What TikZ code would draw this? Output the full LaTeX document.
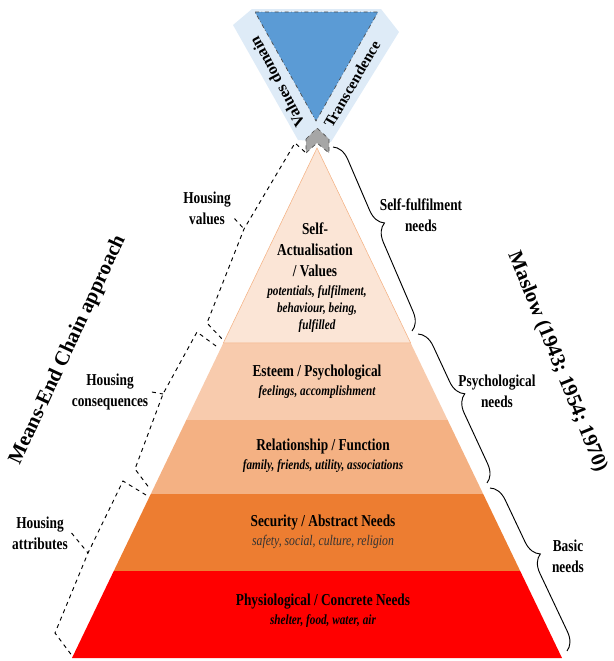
\documentclass[tikz,border=0pt]{standalone}
\usepackage{fontspec}
\setmainfont{Liberation Serif}
\usetikzlibrary{calc,decorations.pathreplacing}

\definecolor{bandblue}{RGB}{222,235,247}
\definecolor{valblue}{RGB}{91,155,213}
\definecolor{chevgrey}{RGB}{166,166,166}
\definecolor{layerA}{RGB}{251,229,214}
\definecolor{layerB}{RGB}{248,203,173}
\definecolor{layerC}{RGB}{244,177,131}
\definecolor{layerD}{RGB}{237,125,49}
\definecolor{layerE}{RGB}{255,0,0}

\tikzset{
  lbl/.style={align=center, xscale=0.8, font=\fontsize{12.5}{15.75}\selectfont\bfseries},
  subtxt/.style={align=center, xscale=0.8, font=\fontsize{10.5}{13}\selectfont\bfseries\itshape},
  laytxt/.style={align=center, xscale=0.8, font=\fontsize{12.5}{14.5}\selectfont\bfseries},
  sidetxt/.style={font=\fontsize{15.5}{18}\selectfont\bfseries},
  bandtxt/.style={font=\fontsize{12}{14}\selectfont\bfseries},
  chainline/.style={dashed, line width=0.7pt},
  needbrace/.style={decorate, decoration={brace, amplitude=13pt, aspect=0.45}, line width=0.7pt}
}
\newcommand{\subline}[1]{{\fontsize{10.5}{14.5}\selectfont\bfseries\itshape #1}}
\newcommand{\sublight}[1]{{\fontsize{11}{14.5}\selectfont\mdseries\itshape\color{black!80}#1}}

\begin{document}
\begin{tikzpicture}[x=0.75pt,y=-0.75pt]
\useasboundingbox (0,0) rectangle (614,661);

\coordinate (apex) at (317,148);
\coordinate (bl) at (72,658);
\coordinate (br) at (562,658);
\coordinate (l1) at ($(apex)!0.382!(bl)$);
\coordinate (r1) at ($(apex)!0.382!(br)$);
\coordinate (l2) at ($(apex)!0.533!(bl)$);
\coordinate (r2) at ($(apex)!0.533!(br)$);
\coordinate (l3) at ($(apex)!0.678!(bl)$);
\coordinate (r3) at ($(apex)!0.678!(br)$);
\coordinate (l4) at ($(apex)!0.829!(bl)$);
\coordinate (r4) at ($(apex)!0.829!(br)$);

\fill[layerE] (l4) -- (r4) -- (br) -- (bl) -- cycle;
\fill[layerD] (l3) -- (r3) -- (r4) -- (l4) -- cycle;
\fill[layerC] (l2) -- (r2) -- (r3) -- (l3) -- cycle;
\fill[layerB] (l1) -- (r1) -- (r2) -- (l2) -- cycle;
\filldraw[fill=layerA, draw=layerC, line width=0.4pt] (apex) -- (r1) -- (l1) -- cycle;

\fill[bandblue] (233,25) -- (252,9) -- (381,9) -- (399,32) -- (331,142) -- (298,140) -- cycle;
\filldraw[fill=valblue, draw=black!70, dash dot, line width=0.5pt] (255,12) -- (378,12) -- (316,121) -- cycle;
\filldraw[fill=chevgrey, draw=black!70, dashed, line width=0.5pt] (306,139) -- (317,128) -- (329,139) -- (329,153) -- (317,143) -- (306,153) -- cycle;

\draw node[bandtxt, rotate=118] (valdom) at (277,82) {Values domain};
\draw node[bandtxt, rotate=60, font=\fontsize{11.5}{14}\selectfont\bfseries] (transc) at (352,84) {Transcendence};

\draw node[lbl] (selfact) at (315,250) {Self-\\Actualisation\\/ Values};
\draw node[subtxt] (selfsub) at (317,309) {potentials, fulfilment,\\behaviour, being,\\fulfilled};
\draw node[laytxt] (esteem) at (317,382) {Esteem / Psychological\\\subline{feelings, accomplishment}};
\draw node[laytxt] (relat) at (323,456) {Relationship / Function\\\subline{family, friends, utility, associations}};
\draw node[laytxt] (secur) at (323,532) {Security / Abstract Needs\\\sublight{safety, social, culture, religion}};
\draw node[laytxt] (physio) at (323,611) {Physiological / Concrete Needs\\\subline{shelter, food, water, air}};

\draw node[lbl] (selfneed) at (421,215) {Self-fulfilment\\needs};
\draw node[lbl] (psyneed) at (497,391) {Psychological\\needs};
\draw node[lbl] (basneed) at (568,556) {Basic\\needs};

\draw node[lbl] (hval) at (207,208) {Housing\\values};
\draw node[lbl] (hcon) at (110,392) {Housing\\consequences};
\draw node[lbl] (hatt) at (40,533) {Housing\\attributes};

\draw node[sidetxt, rotate=65] (meanchain) at (68,350) {Means-End Chain approach};
\draw node[sidetxt, rotate=-68] (maslow) at (557,362) {Maslow (1943; 1954; 1970)};

\coordinate (sftop) at (333,147);
\coordinate (sfbot) at (412,331);
\coordinate (pstop) at (418,334);
\coordinate (psbot) at (487,483);
\coordinate (batop) at (490,488);
\coordinate (babot) at (567,651);
\draw[needbrace] (sftop) -- (sfbot);
\draw[needbrace] (pstop) -- (psbot);
\draw[needbrace] (batop) -- (babot);

\coordinate (valend) at (305,152);
\coordinate (valcor) at (295,143);
\coordinate (valmid) at (244,229);
\coordinate (valbot) at (207,323);
\coordinate (valfoot) at (223,340);
\draw[chainline] (valend) -- (valcor) -- (valmid) -- (valbot) -- (valfoot);
\draw[chainline] ($(hval.east)!0.5!(hval.south east)$) -- (valmid);

\coordinate (conend) at (216,346);
\coordinate (concor) at (197,332);
\coordinate (conmid) at (163,394);
\coordinate (conbot) at (135,469);
\coordinate (confoot) at (150,489);
\draw[chainline] (conend) -- (concor) -- (conmid) -- (conbot) -- (confoot);
\draw[chainline] (hcon.east) -- (conmid);

\coordinate (attend) at (146,495);
\coordinate (attcor) at (123,481);
\coordinate (attmid) at (88,553);
\coordinate (attbot) at (55,633);
\coordinate (attfoot) at (73,657);
\draw[chainline] (attend) -- (attcor) -- (attmid) -- (attbot) -- (attfoot);
\draw[chainline] (hatt.east) -- (attmid);

\end{tikzpicture}
\end{document}
